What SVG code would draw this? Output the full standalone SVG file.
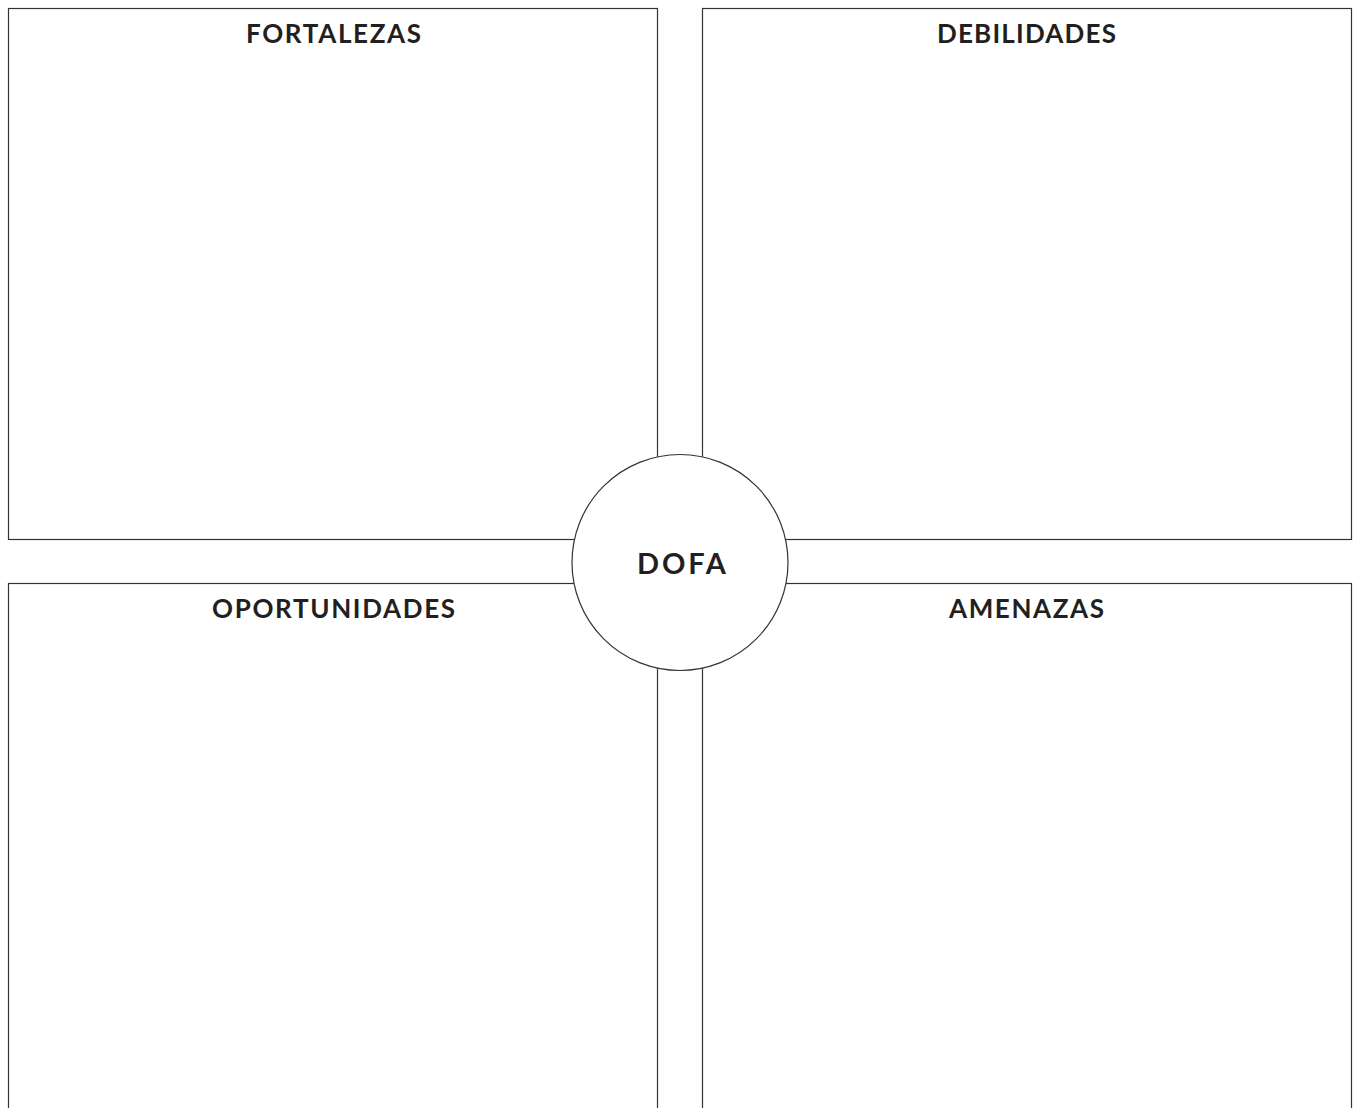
<svg xmlns="http://www.w3.org/2000/svg" width="1353" height="1108" viewBox="0 0 1353 1108">
<style>
.box{fill:#fff;stroke:#333;stroke-width:1.2}
.t{font-family:Lato,"Liberation Sans",sans-serif;font-weight:bold;font-size:26px;fill:#231f20;text-anchor:middle}
.c{font-family:Lato,"Liberation Sans",sans-serif;font-weight:bold;font-size:29px;fill:#231f20;text-anchor:middle}
</style>
<rect width="1353" height="1108" fill="#fff"/>
<g id="fortalezas"><rect class="box" x="8.5" y="8.5" width="649" height="531"/><text class="t" x="333.5" y="43" textLength="175" lengthAdjust="spacing">FORTALEZAS</text></g>
<g id="debilidades"><rect class="box" x="702.5" y="8.5" width="649" height="531"/><text class="t" x="1026.5" y="43" textLength="179" lengthAdjust="spacing">DEBILIDADES</text></g>
<g id="oportunidades"><rect class="box" x="8.5" y="583.5" width="649" height="540"/><text class="t" x="333.5" y="618" textLength="243" lengthAdjust="spacing">OPORTUNIDADES</text></g>
<g id="amenazas"><rect class="box" x="702.5" y="583.5" width="649" height="540"/><text class="t" x="1026.5" y="618" textLength="155" lengthAdjust="spacing">AMENAZAS</text></g>
<g id="connectors"></g>
<g id="dofa"><circle class="box" cx="680" cy="562.5" r="108"/><text class="c" x="681.5" y="574" textLength="89" lengthAdjust="spacing">DOFA</text></g>
</svg>
